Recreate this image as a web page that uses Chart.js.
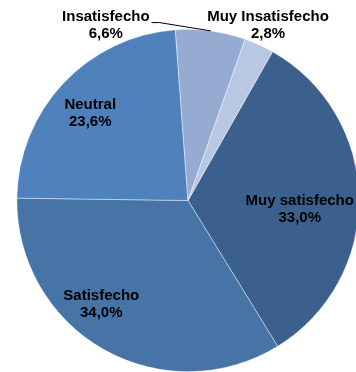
<!DOCTYPE html>
<html>
<head>
<meta charset="utf-8">
<script src="https://cdn.jsdelivr.net/npm/chart.js@4/dist/chart.umd.min.js"></script>
<style>
  html, body { margin: 0; padding: 0; background: #fff; overflow: hidden; }
  #wrap { width: 356px; height: 372px; overflow: hidden; }
  canvas { display: block; }
</style>
</head>
<body>
<div id="wrap"><canvas id="pie" width="376" height="372"></canvas></div>
<script>
// datos de la encuesta (%)
const categorias = ['Muy satisfecho', 'Satisfecho', 'Neutral', 'Insatisfecho', 'Muy Insatisfecho'];
const porcentajes = [33.0, 34.0, 23.6, 6.6, 2.8];

const colores = ['#3C608E', '#4674A6', '#4F81BD', '#95ABD2', '#B9C8E2'];

// posición de cada etiqueta: ángulo (grados desde arriba, horario) y fracción del radio
const etiquetaAngulo = [94.6, 219.9, 311.7, 334.9, 24.5];
const etiquetaRadio = [0.655, 0.79, 0.765, 1.132, 1.127];
const conGuia = [false, false, false, true, false];

const fmt = v => v.toFixed(1).replace('.', ',') + '%';

const etiquetasPlugin = {
  id: 'etiquetas',
  afterDatasetsDraw(chart) {
    const ctx = chart.ctx;
    const arcs = chart.getDatasetMeta(0).data;
    ctx.save();
    ctx.font = 'bold 15px "Liberation Sans", Arial, sans-serif';
    ctx.fillStyle = '#000';
    ctx.textAlign = 'center';
    ctx.textBaseline = 'middle';
    arcs.forEach((arc, i) => {
      const a = etiquetaAngulo[i] * Math.PI / 180;
      const r = arc.outerRadius * etiquetaRadio[i];
      const x = arc.x + r * Math.sin(a);
      const y = arc.y - r * Math.cos(a);
      ctx.fillText(categorias[i], x, y - 8.5);
      ctx.fillText(fmt(porcentajes[i]), x, y + 8.5);

      if (conGuia[i]) {
        const w = ctx.measureText(categorias[i]).width;
        const mid = (arc.startAngle + arc.endAngle) / 2;
        const ex = arc.x + arc.outerRadius * Math.cos(mid);
        const ey = arc.y + arc.outerRadius * Math.sin(mid);
        const sx = x + w / 2 + 2;
        const sy = y - 2.5;
        ctx.beginPath();
        ctx.strokeStyle = '#000';
        ctx.lineWidth = 1;
        ctx.moveTo(sx, sy);
        ctx.lineTo(sx + 8, sy);
        ctx.lineTo(ex, ey);
        ctx.stroke();
      }
    });
    ctx.restore();
  }
};

new Chart(document.getElementById('pie'), {
  type: 'pie',
  data: {
    labels: categorias,
    datasets: [{
      data: porcentajes,
      backgroundColor: colores,
      borderColor: 'rgba(255,255,255,0.55)',
      borderWidth: 0.75
    }]
  },
  options: {
    responsive: false,
    animation: false,
    rotation: 29.6,
    layout: { padding: { top: 29, bottom: 0, left: 0, right: 0 } },
    plugins: {
      legend: { display: false },
      tooltip: { enabled: false }
    }
  },
  plugins: [etiquetasPlugin]
});
</script>
</body>
</html>
